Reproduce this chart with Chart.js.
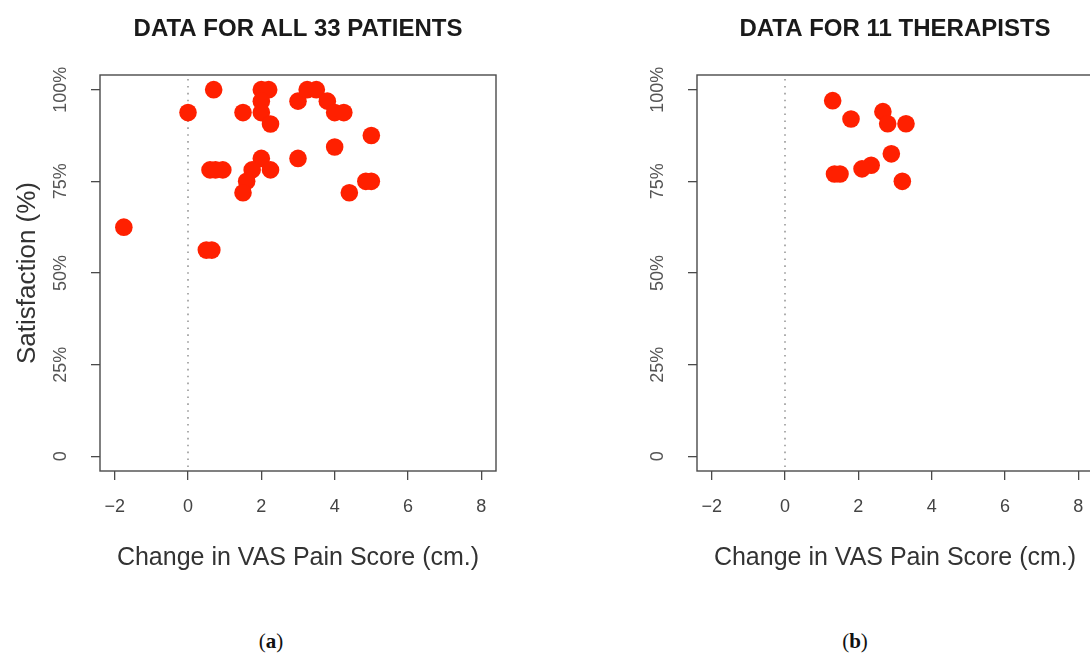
<!DOCTYPE html>
<html>
<head>
<meta charset="utf-8">
<script src="https://cdn.jsdelivr.net/npm/chart.js@4.4.1/dist/chart.umd.min.js"></script>
<style>
  html, body { margin: 0; padding: 0; background: #fff; }
  body { width: 1090px; height: 658px; overflow: hidden; position: relative; }
  canvas { position: absolute; top: 0; }
  #cA { left: 0; }
  #cB { left: 545px; }
  .cap { position: absolute; font-family: "Liberation Serif", "DejaVu Serif", serif; font-size: 21px; color: #111; transform: translate(-50%, -50%); white-space: nowrap; }
</style>
</head>
<body>
<canvas id="cA" width="545" height="600"></canvas>
<canvas id="cB" width="560" height="600"></canvas>
<div class="cap" style="left:271px; top:641px;">(<b>a</b>)</div>
<div class="cap" style="left:855px; top:641px;">(<b>b</b>)</div>
<script>
// ---- data ----
const titleA = 'DATA FOR ALL 33 PATIENTS';
const titleB = 'DATA FOR 11 THERAPISTS';
const xAxisTitle = 'Change in VAS Pain Score (cm.)';
const yAxisTitle = 'Satisfaction (%)';
const xTicks = [-2, 0, 2, 4, 6, 8];
const yTicks = [0, 25, 50, 75, 100];
const yTickLabels = ['0', '25%', '50%', '75%', '100%'];

const patientsX = [-1.75, 0, 0.7, 2, 2.2, 1.5, 2, 2, 2.25, 3, 3.25, 3.5, 3.8, 4, 4.25, 5, 4, 3, 0.6, 0.75, 0.95, 2, 1.75, 2.25, 1.6, 1.5, 4.4, 4.85, 5, 0.5, 0.65];
const patientsY = [62.5, 93.75, 100, 100, 100, 93.75, 96.875, 93.75, 90.625, 96.875, 100, 100, 96.875, 93.75, 93.75, 87.5, 84.375, 81.25, 78.125, 78.125, 78.125, 81.25, 78.125, 78.125, 75, 71.875, 71.875, 75, 75, 56.25, 56.25];

const therapistsX = [1.3, 1.8, 2.67, 2.8, 3.3, 2.9, 2.35, 2.1, 1.35, 1.5, 3.2];
const therapistsY = [97, 92, 94, 90.7, 90.7, 82.5, 79.4, 78.4, 77, 77, 75];

// ---- style ----
const RED = '#ff2000';
const FONT = '"Liberation Sans", Arial, Helvetica, sans-serif';

const panelPlugin = {
  id: 'panelDeco',
  beforeDatasetsDraw(chart) {
    const {ctx, chartArea: a, scales} = chart;
    const x0 = scales.x.getPixelForValue(0);
    ctx.save();
    ctx.strokeStyle = '#9a9a9a';
    ctx.lineWidth = 1.6;
    ctx.setLineDash([1.6, 5.3]);
    ctx.beginPath();
    ctx.moveTo(x0, a.top + 4);
    ctx.lineTo(x0, a.bottom - 4);
    ctx.stroke();
    ctx.restore();
  },
  afterDraw(chart, args, opts) {
    const {ctx, chartArea: a} = chart;
    ctx.save();
    ctx.strokeStyle = '#4a4a4a';
    ctx.lineWidth = 1.4;
    ctx.strokeRect(a.left, a.top, a.right - a.left, a.bottom - a.top);
    ctx.fillStyle = '#1a1a1a';
    ctx.font = 'bold 24px ' + FONT;
    ctx.textAlign = 'center';
    ctx.textBaseline = 'middle';
    ctx.fillText(opts.text, (a.left + a.right) / 2, 29);
    ctx.restore();
  }
};

function makeChart(id, xs, ys, title, yAxisWidth, rightPad, showYTitle) {
  const pts = xs.map((x, i) => ({x: x, y: ys[i]}));
  return new Chart(document.getElementById(id), {
    type: 'scatter',
    data: { datasets: [{ data: pts, backgroundColor: RED, borderWidth: 0, pointRadius: 8.8, pointHoverRadius: 8.8 }] },
    options: {
      responsive: false,
      animation: false,
      events: [],
      layout: { padding: { left: 0, top: 75, right: rightPad, bottom: 0 } },
      plugins: {
        legend: { display: false },
        tooltip: { enabled: false },
        panelDeco: { text: title }
      },
      scales: {
        x: {
          type: 'linear', min: -2.4, max: 8.4,
          afterBuildTicks: s => { s.ticks = xTicks.map(v => ({value: v})); },
          afterFit: s => { s.height = 600 - 471; },
          grid: { drawOnChartArea: false, drawTicks: true, tickLength: 9, color: '#4a4a4a', lineWidth: 1.3 },
          border: { display: false },
          ticks: { color: '#444', font: { family: FONT, size: 18 }, padding: 16, maxRotation: 0, minRotation: 0,
                   callback: v => (v < 0 ? '\u2212' + Math.abs(v) : String(v)) },
          title: { display: true, text: xAxisTitle, color: '#333', font: { family: FONT, size: 25 }, padding: { top: 0, bottom: 27 } }
        },
        y: {
          type: 'linear', min: -4, max: 104,
          afterBuildTicks: s => { s.ticks = yTicks.map(v => ({value: v})); },
          afterFit: s => { s.width = yAxisWidth; },
          grid: { drawOnChartArea: false, drawTicks: true, tickLength: 9, color: '#4a4a4a', lineWidth: 1.3 },
          border: { display: false },
          ticks: { color: '#555', font: { family: FONT, size: 18 }, padding: 7, minRotation: 90, maxRotation: 90, crossAlign: 'center',
                   callback: v => yTickLabels[yTicks.indexOf(v)] },
          title: { display: showYTitle, text: yAxisTitle, color: '#333', font: { family: FONT, size: 26 }, padding: { top: 12, bottom: 0 } }
        }
      }
    },
    plugins: [panelPlugin]
  });
}

makeChart('cA', patientsX, patientsY, titleA, 100, 545 - 496, true);
makeChart('cB', therapistsX, therapistsY, titleB, 152, 560 - 548, false);
</script>
</body>
</html>
